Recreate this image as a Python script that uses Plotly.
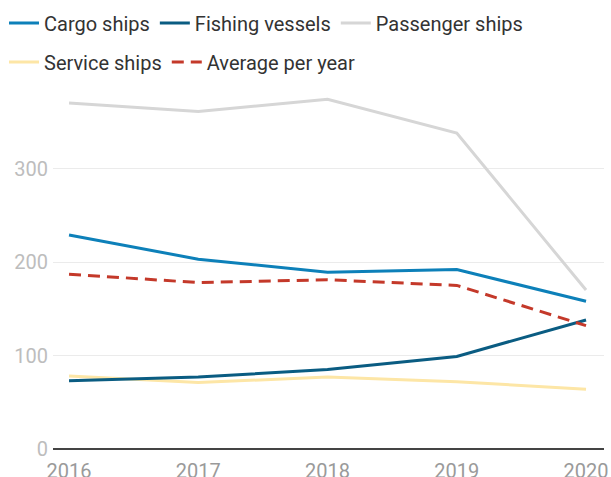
import plotly.graph_objects as go

years = [2016, 2017, 2018, 2019, 2020]
cargo = [229, 203, 189, 192, 158]
fishing = [73, 77, 85, 99, 138]
passenger = [370, 361, 374, 338, 170]
service = [78, 71, 77, 72, 64]
average = [187, 178, 181, 175, 132]

y_ticks = [0, 100, 200, 300]
x_ticks = years

fig = go.Figure()

def add(name, vals, color, legend, dash=None, width=3):
    fig.add_trace(go.Scatter(
        x=years, y=vals, name=name, mode="lines",
        line=dict(color=color, width=width, dash=dash),
        legend=legend, cliponaxis=False,
    ))

# draw order: light lines beneath, legend order set by legendrank
add("Service ships", service, "#fde6a6", "legend2")
add("Passenger ships", passenger, "#d6d6d6", "legend")
add("Fishing vessels", fishing, "#0a5c82", "legend")
add("Cargo ships", cargo, "#0d80b9", "legend")
add("Average per year", average, "#c4392a", "legend2", dash="12px,7px")

ranks = {"Cargo ships": 1, "Fishing vessels": 2, "Passenger ships": 3,
         "Service ships": 4, "Average per year": 5}
for tr in fig.data:
    tr.legendrank = ranks[tr.name]

legend_common = dict(
    orientation="h", xref="container", yref="container",
    xanchor="left", yanchor="middle",
    font=dict(family="Roboto", size=20, color="#333333"),
    bgcolor="rgba(0,0,0,0)", itemclick=False, itemdoubleclick=False,
    traceorder="normal",
)

fig.update_layout(
    width=611, height=477,
    margin=dict(l=53, r=7, t=90, b=28, autoexpand=False),
    paper_bgcolor="white", plot_bgcolor="white",
    font=dict(family="Roboto", size=20),
    showlegend=True,
    legend=dict(x=4 / 611, y=1 - 23 / 477, **legend_common),
    legend2=dict(x=4 / 611, y=1 - 62 / 477, **legend_common),
    xaxis=dict(
        range=[2015.876, 2020.139],
        tickvals=x_ticks, ticktext=[str(v) for v in x_ticks],
        showgrid=False, zeroline=False, showline=False,
        ticks="", ticklabelstandoff=8,
        tickfont=dict(family="Roboto", size=20, color="#9a9a9a"),
        fixedrange=True,
    ),
    yaxis=dict(
        range=[0, 384],
        tickvals=y_ticks,
        showgrid=True, gridcolor="#ebebeb", gridwidth=1,
        zeroline=True, zerolinecolor="#444444", zerolinewidth=2,
        showline=False, ticks="", ticklabelstandoff=4,
        tickfont=dict(family="Roboto", size=20, color="#bdbdbd"),
        fixedrange=True,
    ),
)

fig.write_html(
    "out.html",
    config=dict(displayModeBar=False),
    post_script="document.body.style.margin='0';document.body.style.overflow='hidden';",
)
